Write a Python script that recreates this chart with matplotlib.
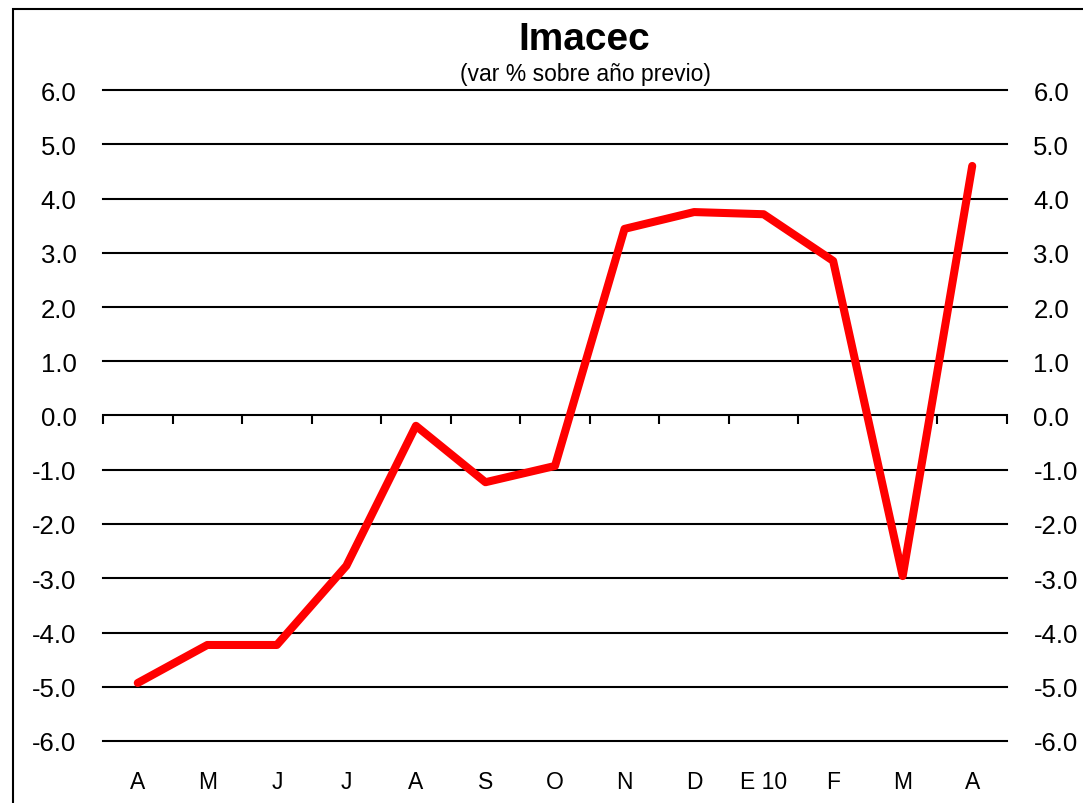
import matplotlib
matplotlib.use("Agg")
import matplotlib.pyplot as plt
import numpy as np
from matplotlib.patches import Rectangle

plt.rcParams['font.family'] = ['Liberation Sans', 'DejaVu Sans']

categories = ["A", "M", "J", "J", "A", "S", "O", "N", "D", "E 10", "F", "M", "A"]
imacec = [-4.93, -4.23, -4.23, -2.77, -0.19, -1.23, -0.93, 3.44, 3.75, 3.71, 2.85, -2.96, 4.60]
yticks = [-6, -5, -4, -3, -2, -1, 0, 1, 2, 3, 4, 5, 6]

W, H = 1083, 804
fig = plt.figure(figsize=(W / 100, H / 100), dpi=100)
ax = fig.add_axes([103 / W, 1 - 742 / H, (1007 - 103) / W, (742 - 91) / H])

x = np.arange(len(categories))
ax.set_xlim(-0.5, len(categories) - 0.5)
ax.set_ylim(-6, 6)

for v in yticks:
    if v != 0:
        ax.axhline(v, color='black', lw=1.5, zorder=1, clip_on=False)

ax.plot(x, imacec, color='#ff0000', lw=5.8, solid_capstyle='round', zorder=3)

for s in ax.spines.values():
    s.set_visible(False)

ax.set_yticks(yticks)
ax.set_yticklabels([f"{v:.1f}" for v in yticks])
ax.tick_params(axis='y', length=0, labelsize=18.5, pad=19, labelright=True, left=False, right=False)

ax.set_xticks(x)
ax.set_xticklabels(categories)
ax.tick_params(axis='x', length=0, labelsize=16.5, pad=21)

sec = ax.secondary_xaxis(0.5)
sec.xaxis.set_ticks_position('bottom')
sec.set_xticks(np.arange(len(categories) + 1) - 0.5)
sec.tick_params(axis='x', which='both', bottom=True, top=False, direction='out', length=6, width=1.5,
                labelbottom=False, labeltop=False)
for name, s in sec.spines.items():
    s.set_linewidth(1.5)

fig.text(584 / W, 1 - 40 / H, "Imacec", ha='center', va='center', fontsize=28, fontweight='bold')
fig.text(585 / W, 1 - 74 / H, "(var % sobre año previo)", ha='center', va='center', fontsize=16.5)

fig.add_artist(Rectangle((13 / W, -0.1), 2, (H - 10) / H + 0.1, transform=fig.transFigure,
                         fill=False, lw=1.5, edgecolor='black'))

fig.savefig("out.png", dpi=100)
